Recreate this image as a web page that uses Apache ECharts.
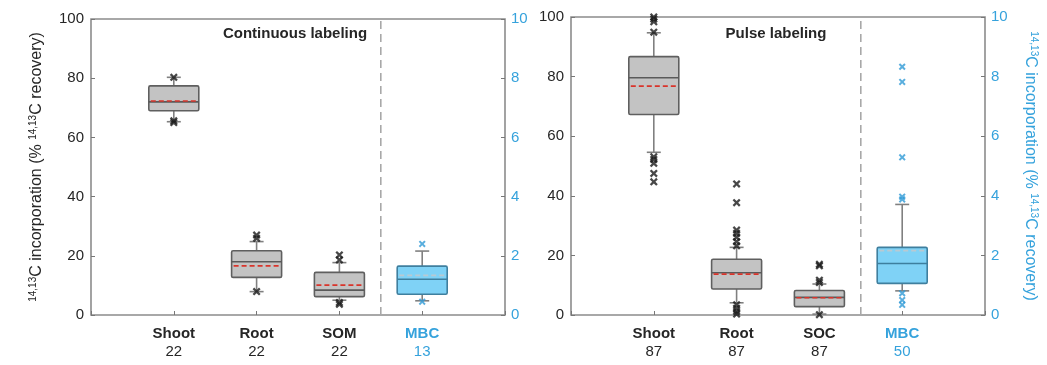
<!DOCTYPE html>
<html>
<head>
<meta charset="utf-8">
<script src="https://cdn.jsdelivr.net/npm/echarts@6/dist/echarts.min.js"></script>
<style>html,body{margin:0;padding:0;background:#fff}#c{width:1047px;height:365px}</style>
</head>
<body>
<div id="c"></div>
<script>
// ---- data ----
const contCategories = ['Shoot', 'Root', 'SOM', 'MBC'];
const contN = [22, 22, 22, 13];
const pulseCategories = ['Shoot', 'Root', 'SOC', 'MBC'];
const pulseN = [87, 87, 87, 50];
// box stats: [lowerWhisker, Q1, median, Q3, upperWhisker, mean]
const contShoot = [65.3, 69.0, 72.0, 77.4, 80.3, 72.3];
const contRoot = [7.9, 12.7, 18.0, 21.7, 24.8, 16.6];
const contSOM = [5.0, 6.2, 8.4, 14.4, 17.7, 10.1];
const contMBC = [0.48, 0.70, 1.21, 1.65, 2.16, 1.34];
const pulseShoot = [54.6, 67.3, 79.6, 86.7, 94.7, 76.8];
const pulseRoot = [4.1, 8.7, 14.2, 18.7, 22.7, 13.7];
const pulseSOC = [0.3, 2.8, 5.9, 8.2, 10.4, 5.8];
const pulseMBC = [0.81, 1.06, 1.73, 2.27, 3.71, 2.16];
// outliers
const contShootOut = [80.3, 65.0, 65.6];
const contRootOut = [27.0, 25.9, 7.9];
const contSOMOut = [20.3, 18.6, 4.2, 3.6];
const contMBCOut = [2.40, 0.45];
const pulseShootOut = [100, 99.3, 98.4, 94.9, 53.1, 52.2, 50.9, 47.5, 44.7];
const pulseRootOut = [44.0, 37.7, 28.5, 27.4, 26.1, 24.6, 23.2, 3.4, 2.3, 1.2, 0.3];
const pulseSOCOut = [17.0, 16.5, 11.7, 10.9, 0.1];
const pulseMBCOut = [8.33, 7.82, 5.29, 3.97, 3.88, 0.73, 0.50, 0.34];
const leftTicks = [0, 20, 40, 60, 80, 100];
const rightTicks = [0, 2, 4, 6, 8, 10];

// ---- style ----
const DARK = '#262626';
const BLUE = '#35a2dc';
const FONT = 'Liberation Sans, Arial, sans-serif';
const crossPath = 'path://M2,0 L5,3 L8,0 L10,2 L7,5 L10,8 L8,10 L5,7 L2,10 L0,8 L3,5 L0,2 Z';

function boxRender(fill, edge, medianColor, meanColor) {
  return function (params, api) {
    const x = api.value(0);
    const lw = api.value(1), q1 = api.value(2), med = api.value(3), q3 = api.value(4), uw = api.value(5), mean = api.value(6);
    const pLw = api.coord([x, lw]), pQ1 = api.coord([x, q1]), pMed = api.coord([x, med]);
    const pQ3 = api.coord([x, q3]), pUw = api.coord([x, uw]), pMean = api.coord([x, mean]);
    const half = 25, cap = 7;
    const cx = pMed[0];
    const wStyle = { stroke: '#808080', lineWidth: 1.6 };
    return {
      type: 'group',
      children: [
        { type: 'line', shape: { x1: cx, y1: pQ3[1], x2: cx, y2: pUw[1] }, style: wStyle },
        { type: 'line', shape: { x1: cx, y1: pQ1[1], x2: cx, y2: pLw[1] }, style: wStyle },
        { type: 'line', shape: { x1: cx - cap, y1: pUw[1], x2: cx + cap, y2: pUw[1] }, style: wStyle },
        { type: 'line', shape: { x1: cx - cap, y1: pLw[1], x2: cx + cap, y2: pLw[1] }, style: wStyle },
        { type: 'rect', shape: { x: cx - half, y: pQ3[1], width: 2 * half, height: pQ1[1] - pQ3[1], r: 1.5 },
          style: { fill: fill, stroke: edge, lineWidth: 1.6 } },
        { type: 'line', shape: { x1: cx - half, y1: pMed[1], x2: cx + half, y2: pMed[1] },
          style: { stroke: medianColor, lineWidth: 1.6 } },
        { type: 'line', shape: { x1: cx - half + 2, y1: pMean[1], x2: cx + half - 2, y2: pMean[1] },
          style: { stroke: meanColor, lineWidth: 1.6, lineDash: [5, 3] } }
      ]
    };
  };
}

function boxData(arrs, startIdx) {
  return arrs.map((a, i) => [startIdx + i + 1, a[0], a[1], a[2], a[3], a[4], a[5]]);
}
function outData(arrs, startIdx) {
  const out = [];
  arrs.forEach((a, i) => a.forEach(v => out.push([startIdx + i + 1, v])));
  return out;
}

function xAxisFor(gridIndex, cats, ns) {
  return {
    type: 'value', gridIndex: gridIndex, min: 0, max: cats.length + 1, interval: 1,
    axisLine: { show: false },
    axisTick: { show: true, inside: true, length: 4, lineStyle: { color: '#777' } },
    splitLine: { show: false },
    axisLabel: {
      margin: 10,
      formatter: function (v) {
        const i = Math.round(v) - 1;
        if (i < 0 || i >= cats.length) return '';
        const blue = cats[i] === 'MBC';
        return '{' + (blue ? 'bb' : 'b') + '|' + cats[i] + '}\n{' + (blue ? 'nb' : 'n') + '|' + ns[i] + '}';
      },
      rich: {
        b: { fontFamily: FONT, fontSize: 15, fontWeight: 'bold', color: DARK, lineHeight: 18 },
        n: { fontFamily: FONT, fontSize: 15, color: DARK, lineHeight: 17 },
        bb: { fontFamily: FONT, fontSize: 15, fontWeight: 'bold', color: BLUE, lineHeight: 18 },
        nb: { fontFamily: FONT, fontSize: 15, color: BLUE, lineHeight: 17 }
      }
    }
  };
}

const nameRich = {
  s: { fontFamily: FONT, fontSize: 10, verticalAlign: 'top', lineHeight: 18 },
  t: { fontFamily: FONT, fontSize: 16, lineHeight: 18 }
};
const axisNameText = '{s|14,13}{t|C incorporation (% }{s|14,13}{t|C recovery)}';

function yLeft(gridIndex, withName) {
  const a = {
    type: 'value', gridIndex: gridIndex, min: leftTicks[0], max: leftTicks[leftTicks.length - 1], interval: leftTicks[1] - leftTicks[0],
    position: 'left',
    axisLine: { show: false },
    axisTick: { show: true, inside: true, length: 4, lineStyle: { color: '#777' } },
    splitLine: { show: false },
    axisLabel: { margin: 7, fontFamily: FONT, fontSize: 15, color: DARK }
  };
  if (withName) {
    a.name = axisNameText;
    a.nameLocation = 'middle';
    a.nameGap = 45;
    a.nameRotate = 90;
    a.nameTextStyle = { color: DARK, rich: { s: Object.assign({ color: DARK }, nameRich.s), t: Object.assign({ color: DARK }, nameRich.t) } };
  }
  return a;
}
function yRight(gridIndex, withName) {
  const a = {
    type: 'value', gridIndex: gridIndex, min: rightTicks[0], max: rightTicks[rightTicks.length - 1], interval: rightTicks[1] - rightTicks[0],
    position: 'right',
    axisLine: { show: false },
    axisTick: { show: true, inside: true, length: 4, lineStyle: { color: '#777' } },
    splitLine: { show: false },
    axisLabel: { margin: 6, fontFamily: FONT, fontSize: 15, color: BLUE }
  };
  if (withName) {
    a.name = axisNameText;
    a.nameLocation = 'middle';
    a.nameGap = 36;
    a.nameRotate = -90;
    a.nameTextStyle = { color: BLUE, rich: { s: Object.assign({ color: BLUE }, nameRich.s), t: Object.assign({ color: BLUE }, nameRich.t) } };
  }
  return a;
}

function dividerSeries(xAxisIndex, yAxisIndex, cats) {
  const dx = cats.length - 0.5;
  return {
    type: 'line', xAxisIndex: xAxisIndex, yAxisIndex: yAxisIndex, silent: true, symbol: 'none',
    data: [[dx, leftTicks[0]], [dx, leftTicks[leftTicks.length - 1]]],
    lineStyle: { color: '#a8a8a8', width: 1.6, type: [8, 5] }, z: 1
  };
}

const GRAY_FILL = '#c3c3c3', GRAY_EDGE = '#5f5f5f';
const BLUE_FILL = '#7fd2f6', BLUE_EDGE = '#3f7f9e';

const chart = echarts.init(document.getElementById('c'), null, { renderer: 'canvas' });
chart.setOption({
  animation: false,
  backgroundColor: '#fff',
  grid: [
    { left: 91, right: 1047 - 505, top: 19, bottom: 50, show: true, borderColor: '#8c8c8c', borderWidth: 1.6 },
    { left: 571, right: 1047 - 985, top: 17, bottom: 50, show: true, borderColor: '#8c8c8c', borderWidth: 1.6 }
  ],
  xAxis: [xAxisFor(0, contCategories, contN), xAxisFor(1, pulseCategories, pulseN)],
  yAxis: [yLeft(0, true), yRight(0, false), yLeft(1, false), yRight(1, true)],
  graphic: [
    { type: 'text', x: 295, y: 34, style: { text: 'Continuous labeling', font: 'bold 15px ' + FONT, fill: DARK, textAlign: 'center', textVerticalAlign: 'middle' } },
    { type: 'text', x: 776, y: 34, style: { text: 'Pulse labeling', font: 'bold 15px ' + FONT, fill: DARK, textAlign: 'center', textVerticalAlign: 'middle' } }
  ],
  series: [
    dividerSeries(0, 0, contCategories),
    dividerSeries(1, 2, pulseCategories),
    { type: 'custom', xAxisIndex: 0, yAxisIndex: 0, renderItem: boxRender(GRAY_FILL, GRAY_EDGE, '#5a5a5a', '#d9342b'),
      data: boxData([contShoot, contRoot, contSOM], 0), z: 2 },
    { type: 'custom', xAxisIndex: 0, yAxisIndex: 1, renderItem: boxRender(BLUE_FILL, BLUE_EDGE, '#3d7f9e', '#b9c9d2'),
      data: boxData([contMBC], 3), z: 2 },
    { type: 'custom', xAxisIndex: 1, yAxisIndex: 2, renderItem: boxRender(GRAY_FILL, GRAY_EDGE, '#5a5a5a', '#d9342b'),
      data: boxData([pulseShoot, pulseRoot, pulseSOC], 0), z: 2 },
    { type: 'custom', xAxisIndex: 1, yAxisIndex: 3, renderItem: boxRender(BLUE_FILL, BLUE_EDGE, '#3d7f9e', '#b9c9d2'),
      data: boxData([pulseMBC], 3), z: 2 },
    { type: 'scatter', xAxisIndex: 0, yAxisIndex: 0, symbol: crossPath, symbolSize: 8, itemStyle: { color: '#1a1a1a' },
      data: outData([contShootOut, contRootOut, contSOMOut], 0), z: 3 },
    { type: 'scatter', xAxisIndex: 0, yAxisIndex: 1, symbol: crossPath, symbolSize: 7, itemStyle: { color: '#2f9ad6' },
      data: outData([contMBCOut], 3), z: 3 },
    { type: 'scatter', xAxisIndex: 1, yAxisIndex: 2, symbol: crossPath, symbolSize: 8, itemStyle: { color: '#1a1a1a' },
      data: outData([pulseShootOut, pulseRootOut, pulseSOCOut], 0), z: 3 },
    { type: 'scatter', xAxisIndex: 1, yAxisIndex: 3, symbol: crossPath, symbolSize: 7, itemStyle: { color: '#2f9ad6' },
      data: outData([pulseMBCOut], 3), z: 3 }
  ]
});
</script>
</body>
</html>
